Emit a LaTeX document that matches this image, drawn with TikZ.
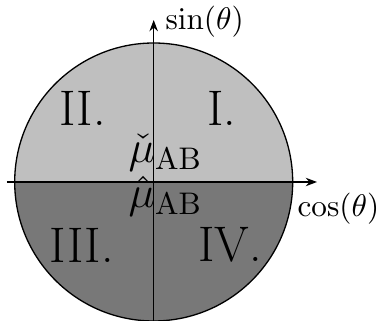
\documentclass[tikz,border=0pt]{standalone}
\usetikzlibrary{arrows.meta}
\begin{document}
\begin{tikzpicture}[x=0.32pt,y=0.32pt,
  axis/.style={line width=0.42pt,-{Stealth[length=3.6pt,width=2.7pt]}},
  numeral/.style={font=\fontsize{16}{19}\selectfont, inner sep=0pt},
  lbl/.style={inner sep=0pt,font=\fontsize{10.2}{12.2}\selectfont},
  mulbl/.style={inner sep=0pt,font=\Large}]
\useasboundingbox (0,0) rectangle (382,321);
\coordinate (O) at (153.7,139);
\fill[black!25] (O) ++(-139,0) arc[start angle=180,end angle=0,radius=139] -- cycle;
\fill[black!53] (O) ++(-139,0) arc[start angle=180,end angle=360,radius=139] -- cycle;
\draw[line width=0.42pt] (O) circle[radius=139];
\coordinate (xs) at (7,139);
\coordinate (xe) at (317,139);
\coordinate (ys) at (153.7,-2);
\coordinate (ye) at (153.7,301);
\draw[axis] (xs) -- (xe);
\draw[axis] (ys) -- (ye);
\node[lbl,anchor=west] (sinl) at (165,299) {$\sin(\theta)$};
\node[lbl,anchor=west] (cosl) at (297,112) {$\cos(\theta)$};
\node[numeral] (q2) at (82.5,213) {II.};
\node[numeral] (q1) at (221.5,213) {I.};
\node[numeral] (q3) at (81.5,76) {III.};
\node[numeral] (q4) at (230,76) {IV.};
\node[mulbl,anchor=base west] (mc) at (128,158) {$\check{\mu}_{\mathrm{AB}}$};
\node[mulbl,anchor=base west] (mh) at (128,113) {$\hat{\mu}_{\mathrm{AB}}$};
\end{tikzpicture}
\end{document}
